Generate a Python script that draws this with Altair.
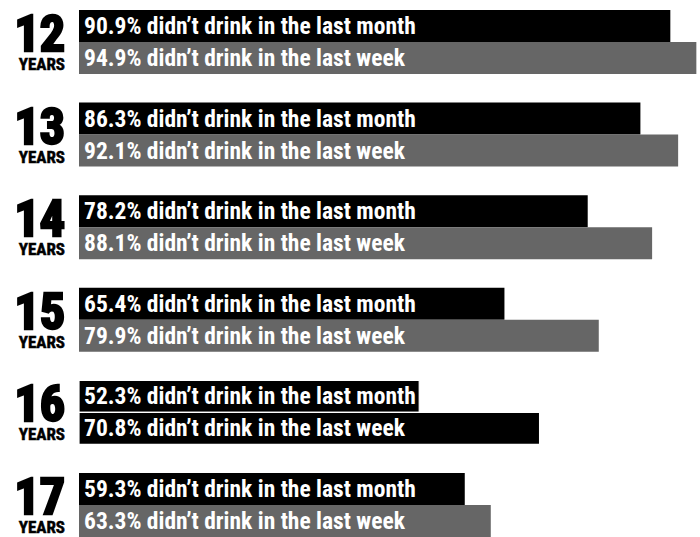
import altair as alt
import pandas as pd

ages = ["12", "13", "14", "15", "16", "17"]
month = [90.9, 86.3, 78.2, 65.4, 52.3, 59.3]
week = [94.9, 92.1, 88.1, 79.9, 70.8, 63.3]
week_colors = ["#666666", "#666666", "#666666", "#666666", "#000000", "#666666"]
month_color = "#000000"

rows = []
for a, m, w, wc in zip(ages, month, week, week_colors):
    rows.append({"age": a, "series": "1month", "value": m, "color": month_color,
                 "label": f"{m}% didn\u2019t drink in the last month"})
    rows.append({"age": a, "series": "2week", "value": w, "color": wc,
                 "label": f"{w}% didn\u2019t drink in the last week"})
df = pd.DataFrame(rows)
ages_df = pd.DataFrame({"age": ages, "years": ["YEARS"] * len(ages)})

FONT = "Roboto Condensed, Liberation Sans"

yscale = alt.Scale(paddingInner=0.31, paddingOuter=0)
xscale = alt.Scale(domain=[0, 95], nice=False, zero=True)
offscale = alt.Scale(paddingInner=0, paddingOuter=0)

bars = alt.Chart(df).mark_bar(cornerRadius=0, stroke="white").encode(
    x=alt.X("value:Q", scale=xscale, axis=None),
    y=alt.Y("age:N", scale=yscale, axis=None),
    yOffset=alt.YOffset("series:N", scale=offscale),
    color=alt.Color("color:N", scale=None),
    strokeWidth=alt.condition(alt.datum.age == "16", alt.value(1.2), alt.value(0)),
)

labels = alt.Chart(df).mark_text(
    align="left", baseline="middle", dx=5, dy=1, color="white",
    font=FONT, fontWeight="bold", fontSize=23.5,
).encode(
    x=alt.datum(0),
    y=alt.Y("age:N", scale=yscale, axis=None),
    yOffset=alt.YOffset("series:N", scale=offscale),
    text="label:N",
)

nums = alt.Chart(ages_df).mark_text(
    align="right", baseline="alphabetic", dy=41, color="black",
    font=FONT, fontWeight="bold", fontSize=50,
    stroke="black", strokeWidth=2.5,
).encode(
    x=alt.value(-14),
    y=alt.Y("age:N", scale=yscale, axis=None, bandPosition=0),
    text="age:N",
)

years = alt.Chart(ages_df).mark_text(
    align="right", baseline="alphabetic", dy=60, color="black",
    font=FONT, fontWeight="bold", fontSize=17,
    stroke="black", strokeWidth=0.5,
).encode(
    x=alt.value(-14),
    y=alt.Y("age:N", scale=yscale, axis=None, bandPosition=0),
    text="years:N",
)

chart = alt.layer(bars, labels, nums, years).properties(
    width=618, height=527,
    padding={"left": 79, "top": 10, "right": 0, "bottom": 0},
    autosize=alt.AutoSizeParams(type="none"),
    background="white",
).configure_view(stroke=None)

chart.save("out.html", embed_options={"renderer": "svg", "actions": False})
